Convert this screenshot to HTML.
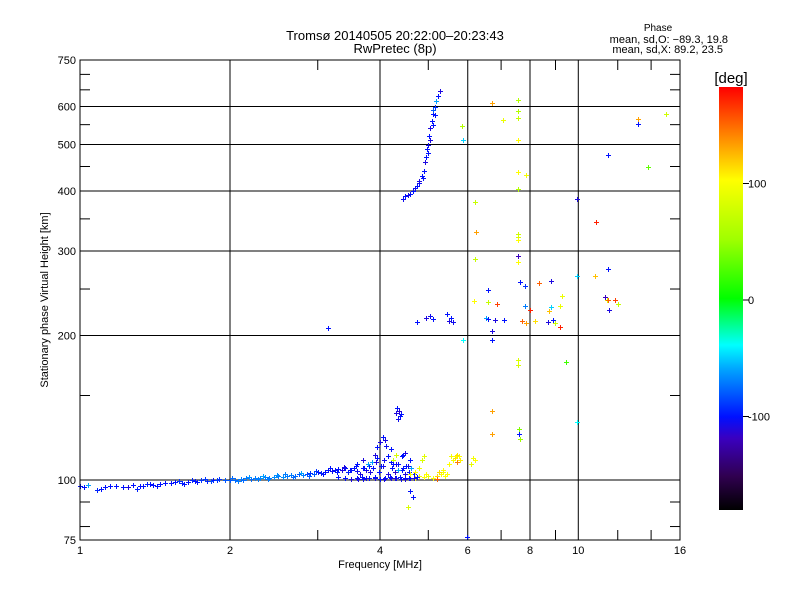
<!DOCTYPE html>
<html><head><meta charset="utf-8"><style>
body{margin:0;background:#fff;}
svg{display:block;font-family:"Liberation Sans","DejaVu Sans",sans-serif;}
</style></head><body>
<svg id="chart" width="800" height="600" viewBox="0 0 800 600">
<defs>
<linearGradient id="cbar" x1="0" y1="1" x2="0" y2="0">
<stop offset="0" stop-color="#000000"/><stop offset="0.08" stop-color="#300050"/>
<stop offset="0.17" stop-color="#3a00c0"/><stop offset="0.22" stop-color="#0010ff"/>
<stop offset="0.33" stop-color="#00a0ff"/><stop offset="0.39" stop-color="#00ffff"/>
<stop offset="0.5" stop-color="#00ff00"/><stop offset="0.64" stop-color="#a0ff00"/>
<stop offset="0.78" stop-color="#ffff00"/><stop offset="0.89" stop-color="#ff8000"/>
<stop offset="1" stop-color="#ff0000"/></linearGradient>
</defs>
<g id="grid"></g>
<g id="marks"></g>
<rect x="80" y="60" width="600" height="480" fill="none" stroke="#000" stroke-width="1"/>
<g id="ticks"></g>
<text x="395" y="40" font-size="13" text-anchor="middle">Tromsø 20140505 20:22:00–20:23:43</text>
<text x="395" y="53" font-size="13" text-anchor="middle">RwPretec (8p)</text>
<text x="658" y="31" font-size="10" text-anchor="middle">Phase</text>
<text x="728" y="43" font-size="11" text-anchor="end">mean, sd,O: −89.3, 19.8</text>
<text x="723" y="53" font-size="11" text-anchor="end">mean, sd,X:  89.2, 23.5</text>
<text x="380" y="568" font-size="11" text-anchor="middle">Frequency [MHz]</text>
<text transform="translate(48,300) rotate(-90)" font-size="11" text-anchor="middle">Stationary phase Virtual Height [km]</text>
<rect x="719" y="87" width="24" height="423" fill="url(#cbar)"/>
<text x="731" y="83" font-size="15" text-anchor="middle">[deg]</text>
<g id="cbticks"></g>
</svg>
<script>
const xTicks=[1,2,4,6,8,10,16];
const yTicks=[75,100,200,300,400,500,600,750];
const xGrid=[2,4,6,8,10];
const yGrid=[100,200,300,400,500,600];
const xMinor=[3,5,7,9,12,14];
const yMinor=[80,90,150,250,350,450,550,650,700];
const cbTickVals=[100,0,-100];
const cbTickLabels=['100','0','-100'];
const freqs=[1.0,1.02,1.08,1.12,1.15,1.25,1.28,1.32,1.36,1.4,1.45,1.52,1.55,1.6,1.65,1.7,1.75,1.8,1.85,1.9,1.95,2.0,2.05,2.1,2.15,2.2,2.25,2.3,2.35,2.4,2.45,2.5,2.55,2.6,2.65,2.7,2.75,2.8,2.85,2.9,2.95,3.0,3.05,3.1,3.15,3.2,3.25,3.3,3.35,3.4,3.45,3.5,3.55,3.6,3.7,3.75,3.3,3.4,3.5,3.6,3.7,3.8,3.9,4.0,4.1,4.2,4.3,4.4,4.5,4.6,3.6,3.7,3.8,3.85,3.95,4.05,4.2,4.3,4.45,4.55,
4.45,4.5,4.55,4.6,4.65,4.7,4.75,4.8,4.85,4.9,4.92,4.95,4.97,5.0,5.02,5.05,5.08,5.1,5.12,5.15,5.18,5.22,5.27,4.88,4.78,5.0,5.05,5.1,5.15,
4.3,4.33,4.36,4.38,4.35,4.4,4.0,4.05,4.1,3.95,4.12,4.2,3.9,4.15,4.25,4.3,
4.7,4.8,4.9,5.0,5.1,4.95,5.2,5.3,5.35,5.4,4.85,4.9,4.8,5.5,5.6,5.65,5.7,5.75,5.8,5.55,5.2,6.1,6.2,6.15,
4.75,4.95,5.05,5.1,5.5,5.55,5.6,5.45,3.15,4.6,4.65,4.55,5.98,
6.71,7.57,7.57,7.57,7.06,5.84,5.87,7.57,7.57,7.84,7.57,13.2,13.2,15.0,11.47,13.8,9.92,10.85,6.2,6.22,7.57,7.57,7.57,6.2,7.57,7.57,11.47,9.92,10.8,
6.6,7.64,7.8,8.34,8.8,9.26,6.17,6.6,6.87,7.8,8.0,8.75,8.83,9.2,11.3,11.4,11.45,11.85,12.0,11.5,
6.53,6.6,6.8,7.1,7.7,7.84,8.2,8.7,8.9,9.0,9.2,6.71,6.71,7.57,9.45,7.57,6.71,7.6,6.71,9.92,7.6,7.65,5.87,
1.04,1.1,1.18,1.22,1.3,1.34,1.38,1.43,1.48,1.58,1.62,1.68,1.72,1.78,1.83,1.88,2.02,2.08,2.12,2.18,2.28,2.33,2.38,2.48,2.58,2.68,2.78,2.88,2.98,3.08,3.18,3.28,3.38,3.48,3.58,3.65,3.72,3.78,3.82,3.88,3.92,3.98,4.02,4.08,4.15,4.22,4.28,4.35,4.42,4.48,4.52,4.58,4.62,4.68,3.62,3.68,3.75,3.9,4.08,4.18,4.28,4.38,4.48,4.58,4.68,4.75,4.42,4.5,4.6,4.25,4.35,4.45,4.6,4.7,5.25,5.35,5.45,5.6,5.68,5.72];
const heights=[97,96.5,95.5,96.5,97,96.5,97.5,97,98,97.5,98,98.5,99,98.5,99,99.5,100,99.5,100,100.5,100,100,100,100.5,101,100.5,101,101,101.5,101,101.5,102,101.5,102,102.5,102,103,102.5,103,103.5,103,104,103.5,104,105,104.5,105,105.5,105,106,104,105,106,104.5,106,105,101.5,101,100.5,101,100.5,100.8,101,100.5,101,100.8,101,100.5,101,100.8,108,110,107,109,111,107,109,108,106,107,
385,390,392,395,400,405,410,420,430,440,460,470,490,500,520,540,560,580,590,600,615,630,645,425,415,480,510,550,575,
138,141,139,136,134,137,120,123,121,117,118,116,113,112,110,113,
101,102,101.5,102,101,103,102,103,104,102,110,112,106,108,110,111,109,112,110,112,100.5,108,110,111,
213,218,220,216,214,218,213,222,207,95,92,87.7,76,
610,618,587,567,562,546,512,510,438,432,404,566,553,580,475,449,385,345,379,329,326,321,316,289,293,285,275,266,266,
249,258,254,257,260,242,236,235,233,230,226,225,229,230,241,237,237,237,233,226,
218,217,215,215,214,212,214,213,215,212,208,204,196,178,176,174,139,125,125,132,128,122,196,
97.5,96,97,96.5,96,97,98,97,98.5,99.5,98,100,99,100.5,99.5,100,101,99.5,100,101.5,100.5,102,100.5,102.5,103,101.5,103.5,102,104.5,103,106,104,106.5,105,107,103,106,108,104,106,109,104,107,110,103,106,104,108,105,103,107,104,106,103,100.5,101.5,100.8,101.5,100.5,101.5,100.8,101.5,100.5,101.2,100.8,101.5,112,114,110,108,105,113,103,104,104,105,103,110,112,113];
const phases=[-100,-100,-95,-100,-100,-110,-100,-100,-95,-100,-100,-100,-100,-95,-100,-100,-90,-95,-100,-90,-80,-80,-75,-70,-70,-75,-70,-65,-70,-70,-65,-70,-65,-70,-70,-75,-80,-70,-85,-90,-80,-100,-95,-100,-100,-105,-100,-100,-110,-100,-95,-100,-100,-105,-100,-110,-100,-100,-110,-100,-105,-100,-110,-100,-100,-110,-100,-105,-100,-110,-100,-110,-100,-60,-100,-110,-100,-115,-100,-110,
-105,-100,-110,-100,-100,-105,-100,-110,-100,-100,-110,-100,-100,-105,-100,-110,-100,-100,-80,-90,-60,-100,-110,-100,-105,-100,-110,-100,-100,
-110,-100,-115,-100,-105,-100,-110,-100,-110,-100,-105,-100,-110,-100,70,80,
100,95,100,90,100,100,110,100,95,100,80,85,90,100,95,110,140,100,105,95,150,90,100,95,
-100,-110,-105,-100,-110,-100,-105,-100,-100,-100,-100,80,-100,
130,60,60,70,90,60,-50,100,100,95,60,130,-100,75,-100,30,-110,170,70,130,75,80,100,70,-120,100,-100,-50,120,
-100,-100,-90,150,-110,90,100,70,160,-70,170,120,-50,90,-120,80,150,160,70,-110,
-60,-100,-110,-100,150,130,110,-110,-100,70,170,-110,-100,80,20,80,130,-100,130,-40,40,50,-40,
-60,-100,-100,-100,-95,-100,-100,-100,-100,-90,-100,-95,-100,-90,-85,-90,-75,-70,-75,-65,-70,-60,-70,-65,-70,-75,-60,-80,-90,-100,-100,-100,-110,-100,-100,-110,-100,-60,-110,-100,-110,-100,-100,-105,-110,-100,-115,-100,-100,-110,-100,-100,-60,-100,-110,-100,-105,-100,-110,-100,-110,-100,-110,-100,-110,-100,-100,-110,-100,-100,-60,-100,90,100,110,100,100,95,100,110];
const X=f=>80+150*Math.log2(f);
const Y=h=>540-480*Math.log10(h/75);
const cmapStops=[[-180,[0,0,0]],[-150,[48,0,80]],[-120,[58,0,192]],[-100,[0,16,255]],[-60,[0,160,255]],[-40,[0,255,255]],[0,[0,255,0]],[50,[160,255,0]],[100,[255,255,0]],[140,[255,128,0]],[180,[255,0,0]]];
function color(p){for(let i=1;i<cmapStops.length;i++){const[a,ca]=cmapStops[i-1],[b,cb]=cmapStops[i];if(p<=b){const t=(p-a)/(b-a);return 'rgb('+ca.map((v,k)=>Math.round(v+(cb[k]-v)*t)).join(',')+')';}}return 'rgb(255,0,0)';}
const NS='http://www.w3.org/2000/svg';
function mk(tag,attrs,parent){const e=document.createElementNS(NS,tag);for(const k in attrs)e.setAttribute(k,attrs[k]);parent.appendChild(e);return e;}
const grid=document.getElementById('grid'),ticks=document.getElementById('ticks'),marks=document.getElementById('marks'),cbt=document.getElementById('cbticks');
xGrid.forEach(v=>{const l=mk('line',{x1:X(v),x2:X(v),y1:60,y2:540,stroke:'#000'},grid);

});
yGrid.forEach(v=>{const l=mk('line',{x1:80,x2:680,y1:Y(v),y2:Y(v),stroke:'#000'},grid);

});
xMinor.forEach(v=>{[[540,530],[60,70]].forEach(([a,b])=>{mk('line',{x1:X(v),x2:X(v),y1:a,y2:b,stroke:'#000'},ticks);});});
yMinor.forEach(v=>{[[80,90],[680,670]].forEach(([a,b])=>{mk('line',{x1:a,x2:b,y1:Y(v),y2:Y(v),stroke:'#000'},ticks);});});
xTicks.forEach(v=>{const t=mk('text',{x:X(v),y:554,'font-size':11,'text-anchor':'middle'},ticks);t.textContent=v;

});
yTicks.forEach(v=>{const t=mk('text',{x:76,y:Y(v)+4,'font-size':11,'text-anchor':'end'},ticks);t.textContent=v;

});
const CB=p=>300-p*1.165;
cbTickVals.forEach((v,i)=>{mk('line',{x1:743,x2:749,y1:CB(v),y2:CB(v),stroke:'#000'},cbt);
const t=mk('text',{x:748,y:CB(v)+4,'font-size':11},cbt);t.textContent=cbTickLabels[i];

});
for(let i=0;i<freqs.length;i++){const x=Math.round(X(freqs[i])),y=Math.round(Y(heights[i]));
const p=mk('path',{d:`M${x-2},${y+0.5}H${x+3}M${x+0.5},${y-2}V${y+3}`,stroke:color(phases[i]),'stroke-width':1,fill:'none','shape-rendering':'crispEdges'},marks);

}
</script>
</body></html>
